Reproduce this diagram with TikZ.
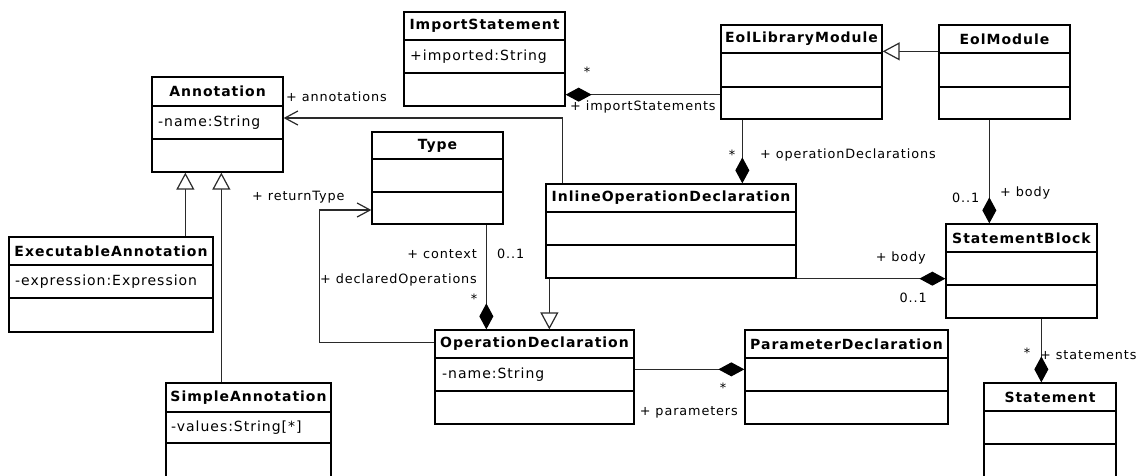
\documentclass[tikz,border=0pt]{standalone}
\usepackage{fontspec}
\setmainfont{DejaVu Sans}[LetterSpace=7]
\usetikzlibrary{arrows.meta,calc}
\definecolor{lc}{HTML}{2A2A2A}
\tikzset{
 clsbox/.style={draw=black, line width=1.3pt, rectangle, inner sep=0pt, fill=white},
 ttl/.style={font=\fontsize{14}{16}\selectfont\bfseries, inner sep=0pt},
 attr/.style={font=\fontsize{14}{16}\selectfont, inner sep=0pt, anchor=west},
 lbl/.style={font=\fontsize{12.8}{14}\selectfont, inner sep=0pt},
 conn/.style={draw=lc, line width=1.2pt},
 comp/.style={conn, -{Diamond[length=26pt,width=14pt,fill=black,color=black]}},
 gen/.style={conn, -{Triangle[open,length=17pt,width=18pt,fill=white]}},
 assoc/.style={conn, -{Straight Barb[length=13pt,width=14pt]}},
}
% #1 name, #2 x1, #3 y1, #4 x2, #5 y2, #6 header line, #7 attr line, #8 title
\newcommand\umlcls[8]{%
 \node[clsbox, minimum width={#4-#2}, minimum height={#5-#3}] (#1) at ({(#2+#4)/2},{(#3+#5)/2}) {};
 \draw[line width=1.3pt] (#2,#6) -- (#4,#6);
 \draw[line width=1.3pt] (#2,#7) -- (#4,#7);
 \node[ttl] (#1-t) at ({(#2+#4)/2},{(#3+#6)/2}) {#8};
}
\begin{document}
\begin{tikzpicture}[x=1pt,y=-1pt]
\useasboundingbox (0,0) rectangle (1136,475);
\fill[white] (0,0) rectangle (1136,475);
\clip (0,0) rectangle (1136,475);

\umlcls{an}{152}{77}{283}{172}{106}{139}{Annotation}
\node[attr] (an-a) at (158,122.5) {-name:String};
\umlcls{ea}{9}{237}{213}{332}{265}{298}{ExecutableAnnotation}
\node[attr] (ea-a) at (15,281.5) {-expression:Expression};
\umlcls{sa}{166}{383}{331}{490}{412}{443}{SimpleAnnotation}
\node[attr] (sa-a) at (171,427.5) {-values:String[*]};
\umlcls{ty}{372}{132}{503}{224}{159}{192}{Type}
\umlcls{is}{404}{12}{565}{106}{40}{73}{ImportStatement}
\node[attr] (is-a) at (410,56.5) {+imported:String};
\umlcls{elm}{721}{25}{882}{119}{53}{87}{EolLibraryModule}
\umlcls{em}{939}{25}{1070}{119}{53}{87}{EolModule}
\umlcls{iod}{546}{184}{796}{278}{212}{245}{InlineOperationDeclaration}
\umlcls{sb}{946}{224}{1097}{318}{252}{285}{StatementBlock}
\umlcls{od}{435}{330}{634}{424}{358}{391}{OperationDeclaration}
\node[attr] (od-a) at (442,374.5) {-name:String};
\umlcls{pd}{745}{330}{948}{424}{358}{391}{ParameterDeclaration}
\umlcls{st}{984}{383}{1116}{490}{411}{444}{Statement}

% generalizations
\coordinate (g1) at ([xshift=34pt]an.south west);
\draw[gen] (ea.north -| g1) -- (g1);
\coordinate (g2) at ([xshift=70pt]an.south west);
\draw[gen] (sa.north -| g2) -- (g2);
\coordinate (c2) at ([xshift=4pt]iod.south west);
\draw[gen] (c2) -- (c2 |- od.north);
\coordinate (c6) at ([yshift=-27pt]em.north west);
\draw[gen] (c6) -- (c6 -| elm.east);

% associations
\coordinate (a1) at ([xshift=17pt]iod.north west);
\draw[assoc] (a1) |- ([yshift=6.5pt]an.east);
\draw[assoc] ([yshift=-13pt]od.north west) -- ++(-115,0) |- ([yshift=-32pt]ty.west);

% compositions
\coordinate (c1) at ([xshift=115pt]ty.south west);
\draw[comp] (c1) -- (c1 |- od.north);
\coordinate (c3) at ([yshift=-40pt]od.north east);
\draw[comp] (c3) -- (c3 -| pd.west);
\coordinate (c4) at ([yshift=25pt]elm.south west);
\draw[comp] (c4) -- (c4 -| is.east);
\coordinate (c5) at ([xshift=22pt]elm.south west);
\draw[comp] (c5) -- (c5 |- iod.north);
\coordinate (c7) at ([xshift=51pt]em.south west);
\draw[comp] (c7) -- (c7 |- sb.north);
\draw[comp] (iod.south east) -- (iod.south east -| sb.west);
\coordinate (c8) at ([xshift=96pt]sb.south west);
\draw[comp] (c8) -- (c8 |- st.north);

% labels
\node[lbl,anchor=west] (l1) at (286,97) {+ annotations};
\node[lbl] (l2) at (587,72) {*};
\node[lbl,anchor=west] (l3) at (570,107) {+ importStatements};
\node[lbl] (l4) at (732,155) {*};
\node[lbl,anchor=west] (l5) at (760,155) {+ operationDeclarations};
\node[lbl,anchor=west] (l6) at (952,198) {0..1};
\node[lbl,anchor=west] (l7) at (1000,193) {+ body};
\node[lbl,anchor=west] (l8) at (252,197) {+ returnType};
\node[lbl,anchor=east] (l9) at (477,254) {+ context};
\node[lbl,anchor=west] (l10) at (497,254) {0..1};
\node[lbl,anchor=west] (l11) at (320,280) {+ declaredOperations};
\node[lbl] (l12) at (474,299) {*};
\node[lbl,anchor=east] (l13) at (926,258) {+ body};
\node[lbl,anchor=east] (l14) at (927,298) {0..1};
\node[lbl] (l15) at (723,388) {*};
\node[lbl,anchor=east] (l16) at (738,412) {+ parameters};
\node[lbl] (l17) at (1027,353) {*};
\node[lbl,anchor=west] (l18) at (1040,355) {+ statements};
\end{tikzpicture}
\end{document}
